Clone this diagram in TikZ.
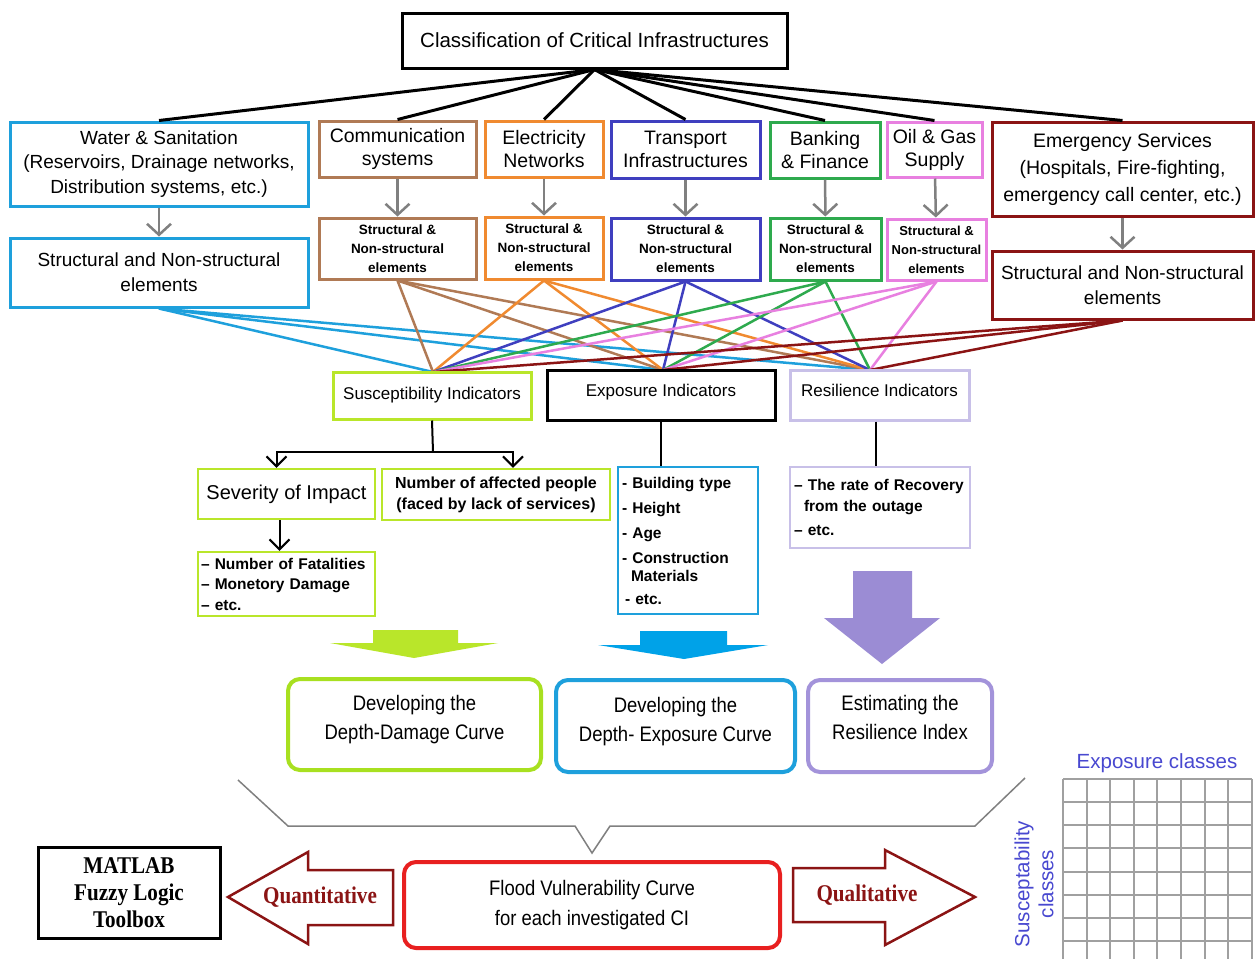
\documentclass[tikz,border=0pt]{standalone}
\usepackage{fontspec}
\setmainfont{Liberation Sans}
\newfontfamily\condf{Liberation Sans}[FakeStretch=0.88]
\newfontfamily\timesb{Liberation Serif}[FakeStretch=0.88]
\usetikzlibrary{arrows.meta,calc}
\definecolor{cwater}{HTML}{1EA0DC}
\definecolor{ccomm}{HTML}{B07A55}
\definecolor{celec}{HTML}{F08A30}
\definecolor{ctrans}{HTML}{3F3FBF}
\definecolor{cbank}{HTML}{2EAA4E}
\definecolor{coil}{HTML}{E880E0}
\definecolor{cemerg}{HTML}{8B1414}
\definecolor{clime}{HTML}{B9E62A}
\definecolor{climeb}{HTML}{A8E020}
\definecolor{clav}{HTML}{C8C0E8}
\definecolor{cpurp}{HTML}{A393DA}
\definecolor{cpurpa}{HTML}{9B8CD4}
\definecolor{cbluea}{HTML}{00A2E8}
\definecolor{cred}{HTML}{E82020}
\definecolor{cgreyar}{HTML}{808080}
\definecolor{cgrid}{HTML}{A0A0A0}
\definecolor{ctxtblue}{HTML}{4848D0}
\newcommand\myfs[2]{\fontsize{#1}{#2}\selectfont}
\newcommand\dropd[1]{\rule[-#1]{0pt}{#1}}
\begin{document}
\begin{tikzpicture}[x=1pt,y=-1pt,
  box/.style={draw=#1, line width=3pt, fill=white, inner sep=0pt, align=center, rectangle},
  rbox/.style={draw=#1, line width=4pt, fill=white, inner sep=0pt, align=center, rectangle, rounded corners=12pt},
  topline/.style={line width=3pt, black},
  indline/.style={line width=2.5pt},
  garrow/.style={draw=cgreyar, line width=2.5pt, -{Straight Barb[length=11pt,width=24pt]}},
  barrow/.style={draw=black, line width=2pt, -{Straight Barb[length=10pt,width=20pt]}},
  bline/.style={draw=black, line width=2pt},
  bigarrow/.style={fill=#1, draw=none},
  outarrow/.style={draw=cemerg, line width=2.5pt, fill=white, line join=miter},
  brace/.style={draw=gray, line width=1.5pt},
  gridline/.style={draw=cgrid, line width=1.3pt}]
\useasboundingbox (0,0) rectangle (1255,959);
\fill[white] (0,0) rectangle (1255,959);

% ---- top
\node[box=black, minimum width=385pt, minimum height=55pt, font=\myfs{20.5}{23}] (title) at (594.5,40.5) {Classification of Critical Infrastructures};

\node[box=cwater, minimum width=298pt, minimum height=84pt, font=\myfs{19}{24.5}] (water) at (159,164) {Water \& Sanitation\\(Reservoirs, Drainage networks,\\Distribution systems, etc.)};
\node[box=ccomm, minimum width=157pt, minimum height=56pt, font=\myfs{19.5}{23}] (comm) at (397.5,149) {Communication\\systems};
\node[box=celec, minimum width=118pt, minimum height=56pt, font=\myfs{19.5}{23}] (elec) at (544,149) {Electricity\\Networks};
\node[box=ctrans, minimum width=149pt, minimum height=57pt, font=\myfs{19.5}{23}] (trans) at (685.5,149.5) {Transport\\Infrastructures};
\node[box=cbank, minimum width=110pt, minimum height=56pt, font=\myfs{19.5}{23}] (bank) at (825,150) {Banking\\\& Finance};
\node[box=coil, minimum width=95pt, minimum height=55pt, font=\myfs{19.5}{23}] (oil) at (934.5,149.5) {Oil \& Gas\\Supply};
\node[box=cemerg, minimum width=261pt, minimum height=94pt, font=\myfs{19.5}{27}] (emerg) at (1122.5,169) {Emergency Services\\(Hospitals, Fire-fighting,\\emergency call center, etc.)};

\foreach \n in {water,comm,elec,trans,bank,oil,emerg}
  \draw[topline] (title.south) -- (\n.north);

% ---- structural elements
\node[box=cwater, minimum width=298pt, minimum height=69pt, font=\myfs{19}{25}] (wsns) at (159,272.5) {Structural and Non-structural\\elements};
\node[box=ccomm, minimum width=157pt, minimum height=61pt, font=\bfseries\myfs{13.5}{19}] (csns) at (397.5,248.5) {Structural \&\\Non-structural\\elements};
\node[box=celec, minimum width=118pt, minimum height=62pt, font=\bfseries\myfs{13.5}{19}] (esns) at (544,248) {Structural \&\\Non-structural\\elements};
\node[box=ctrans, minimum width=149pt, minimum height=62pt, font=\bfseries\myfs{13.5}{19}] (tsns) at (685.5,249) {Structural \&\\Non-structural\\elements};
\node[box=cbank, minimum width=111pt, minimum height=62pt, font=\bfseries\myfs{13.5}{19}] (bsns) at (825.5,249) {Structural \&\\Non-structural\\elements};
\node[box=coil, minimum width=99pt, minimum height=61pt, font=\bfseries\myfs{13}{19}] (osns) at (936.5,249.5) {Structural \&\\Non-structural\\elements};
\node[box=cemerg, minimum width=261pt, minimum height=68pt, font=\myfs{19}{25}] (emsns) at (1122.5,285) {Structural and Non-structural\\elements};

\draw[garrow] (water) -- (wsns);
\draw[garrow] (comm) -- (csns);
\draw[garrow] (elec) -- (esns);
\draw[garrow] (trans) -- (tsns);
\draw[garrow] (bank) -- (bsns);
\draw[garrow] (oil) -- (osns);
\draw[garrow] (emerg.south -| emsns.north) -- (emsns.north);

% ---- indicator convergence points
\coordinate (pS) at (433,372);
\coordinate (pE) at (663,370);
\coordinate (pR) at (870,370);

\foreach \n/\c in {wsns/cwater, csns/ccomm, esns/celec, tsns/ctrans, bsns/cbank, osns/coil, emsns/cemerg}
  \foreach \t in {pS,pE,pR}
    \draw[indline, \c] (\n.south) -- (\t);

% ---- indicators
\node[box=clime, minimum width=198pt, minimum height=47pt, font=\myfs{17}{20}] (susc) at (432,395.5) {Susceptibility Indicators};
\node[box=black, minimum width=228pt, minimum height=50pt, font=\myfs{17}{20}] (exp) at (661,395) {Exposure Indicators\dropd{9pt}};
\node[box=clav, minimum width=179pt, minimum height=50pt, font=\myfs{17}{20}] (res) at (879.5,395) {Resilience Indicators\dropd{9pt}};

% ---- susceptibility details
\node[box=clime, line width=2.5pt, minimum width=177pt, minimum height=50pt, font=\myfs{20}{23}] (sev) at (286.5,494) {Severity of Impact};
\node[box=clime, line width=2.5pt, minimum width=228pt, minimum height=51pt, font=\bfseries\myfs{16}{21}] (num) at (496,494.5) {Number of affected people\\(faced by lack of services)};
\node[box=clime, line width=2.5pt, minimum width=177pt, minimum height=64pt, text width=171pt, inner xsep=3pt, align=left, font=\bfseries\myfs{15.5}{20.5}] (fat) at (286.5,584) {– Number of Fatalities\\– Monetory Damage\\– etc.};

\coordinate (sj) at (433,452);
\draw[bline] (susc.south) -- (sj);
\draw[barrow] (sj) -| ([xshift=-10pt]sev.north);
\draw[barrow] (sj) -| ([xshift=17pt]num.north);
\draw[barrow] ([xshift=-7pt]sev.south) -- ([xshift=-7pt]fat.north);

% ---- exposure details
\node[box=cwater, line width=2.5pt, minimum width=140pt, minimum height=147pt, text width=132pt, inner xsep=4pt, align=left, font=\bfseries\myfs{15.5}{25}] (expd) at (688,540.5) {- Building type\\- Height\\- Age\\- Construction\\[-7pt]\hspace*{9pt}Materials\\[-2pt]\hspace*{3pt}- etc.};
\draw[bline] (exp.south) -- (exp.south |- expd.north);

% ---- resilience details
\node[box=clav, line width=2.5pt, minimum width=180pt, minimum height=81pt, text width=172pt, inner xsep=4pt, align=left, font=\bfseries\myfs{15.5}{20.5}] (resd) at (880,507.5) {– The rate of Recovery\\\hspace*{10pt}from the outage\\[4pt]– etc.};
\draw[bline] ([xshift=-4pt]res.south) -- ([xshift=-4pt]res.south |- resd.north);

% ---- big down arrows
\fill[bigarrow=clime] (373,630) -- (458,630) -- (458,643) -- (498,643) -- (414,658) -- (330,643) -- (373,643) -- cycle;
\fill[bigarrow=cbluea] (640,631) -- (727,631) -- (727,645) -- (768,645) -- (684,659) -- (598,645) -- (640,645) -- cycle;
\fill[bigarrow=cpurpa] (853,571) -- (912,571) -- (912,618) -- (940,618) -- (882,664) -- (824,618) -- (853,618) -- cycle;

% ---- method boxes
\node[rbox=climeb, minimum width=253pt, minimum height=91pt, font=\condf\myfs{21}{29}] (dd) at (414.5,724.5) {Developing the\\Depth-Damage Curve\dropd{14pt}};
\node[rbox=cwater, minimum width=239pt, minimum height=92pt, font=\condf\myfs{21}{29}] (de) at (675.5,726) {Developing the\\Depth- Exposure Curve\dropd{14pt}};
\node[rbox=cpurp, minimum width=184pt, minimum height=92pt, font=\condf\myfs{21}{29}] (ri) at (900,726) {Estimating the\\Resilience Index\dropd{18pt}};

% ---- brace
\draw[brace] (238,780) -- (288,826) -- (575,826) -- (592,853) -- (610,826) -- (975,826) -- (1025,778);

% ---- bottom
\node[rbox=cred, minimum width=376pt, minimum height=86pt, font=\condf\myfs{21}{30}] (flood) at (592,905) {Flood Vulnerability Curve\\for each investigated CI};
\node[box=black, minimum width=182pt, minimum height=91pt, font=\timesb\bfseries\myfs{24}{27}] (matlab) at (129,892.5) {MATLAB\\Fuzzy Logic\\Toolbox};

\draw[outarrow] (393,870) -- (308,870) -- (308,852) -- (228,897) -- (308,944) -- (308,925) -- (393,925) -- cycle;
\node[font=\timesb\bfseries\myfs{24}{26}, text=cemerg] (quant) at (320,897) {Quantitative};
\draw[outarrow] (793,868) -- (885,868) -- (885,850) -- (975,897) -- (885,945) -- (885,922) -- (793,922) -- cycle;
\node[font=\timesb\bfseries\myfs{24}{26}, text=cemerg] (qual) at (867,895) {Qualitative};

% ---- grid
\foreach \x in {1063,1087,1110,1134,1157,1181,1205,1228,1252}
  \draw[gridline] (\x,779) -- (\x,959);
\foreach \y in {779,802,825,848,872,895,918,941}
  \draw[gridline] (1063,\y) -- (1252,\y);
\node[font=\myfs{20.5}{24}, text=ctxtblue] (expcl) at (1157,763) {Exposure classes};
\node[font=\myfs{20.5}{24}, text=ctxtblue, rotate=90, align=center] (suscl) at (1034,884) {Susceptability\\classes};
\end{tikzpicture}
\end{document}
